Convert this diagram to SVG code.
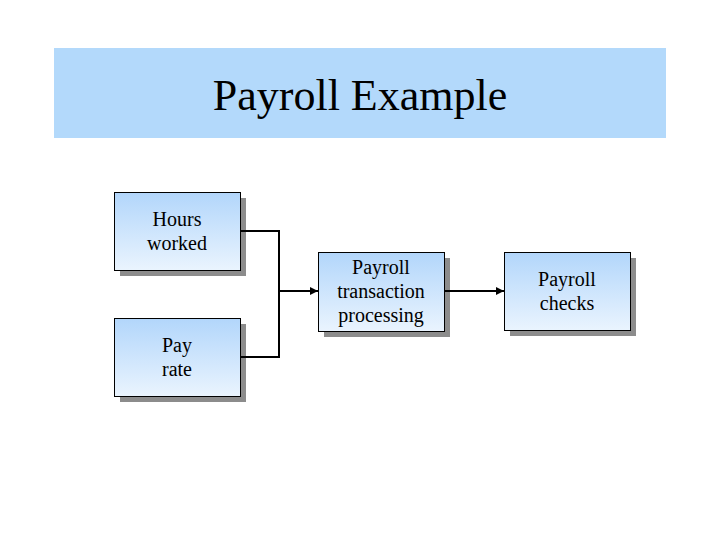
<svg xmlns="http://www.w3.org/2000/svg" width="720" height="540" viewBox="0 0 720 540">
<defs>
<linearGradient id="g" x1="0" y1="0" x2="0" y2="1">
<stop offset="0" stop-color="#b2d6fb"/>
<stop offset="1" stop-color="#eaf4fe"/>
</linearGradient>
<marker id="arr" viewBox="0 0 10 10" refX="10" refY="5" markerWidth="4" markerHeight="4" orient="auto" markerUnits="strokeWidth">
<path d="M0,0 L10,5 L0,10 z" fill="#000"/>
</marker>
</defs>
<style>
.shadow{fill:#8c8c8c}
.box{fill:url(#g);stroke:#000;stroke-width:1}
.t{font-family:"Liberation Serif",serif;font-size:20px;fill:#000;text-anchor:middle}
.c{fill:none;stroke:#000;stroke-width:2}
</style>
<rect x="54" y="48" width="612" height="90" fill="#b3d9fb"/>
<text x="360" y="110" font-family="Liberation Serif, serif" font-size="44" text-anchor="middle" fill="#000">Payroll Example</text>
<g id="hours">
<rect class="shadow" x="120" y="198" width="126" height="78"/>
<rect class="box" x="114.5" y="192.5" width="126" height="78"/>
<text class="t" x="177" y="226">Hours</text>
<text class="t" x="177" y="250">worked</text>
</g>
<g id="payrate">
<rect class="shadow" x="120" y="324" width="126" height="78"/>
<rect class="box" x="114.5" y="318.5" width="126" height="78"/>
<text class="t" x="177" y="352">Pay</text>
<text class="t" x="177" y="376">rate</text>
</g>
<g id="processing">
<rect class="shadow" x="324" y="258" width="126" height="79"/>
<rect class="box" x="318.5" y="252.5" width="126" height="79"/>
<text class="t" x="381" y="274">Payroll</text>
<text class="t" x="381" y="298">transaction</text>
<text class="t" x="381" y="322">processing</text>
</g>
<g id="checks">
<rect class="shadow" x="510" y="258" width="126" height="78"/>
<rect class="box" x="504.5" y="252.5" width="126" height="78"/>
<text class="t" x="567" y="286">Payroll</text>
<text class="t" x="567" y="310">checks</text>
</g>
<g id="connectors">
<polyline class="c" points="241,231 279,231 279,357 241,357"/>
<line class="c" x1="279" y1="291" x2="318" y2="291" marker-end="url(#arr)"/>
<line class="c" x1="445" y1="291" x2="504" y2="291" marker-end="url(#arr)"/>
</g>
</svg>
